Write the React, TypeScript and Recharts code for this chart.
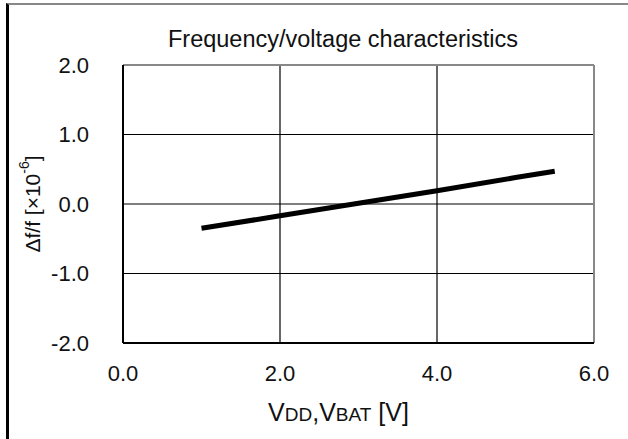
import { CartesianGrid, Label, Line, LineChart, ReferenceLine, XAxis, YAxis } from "recharts"

// supply voltage (V) vs frequency deviation (x10^-6)
const voltage = [1.0, 2.0, 3.0, 4.0, 5.0, 5.5]
const deviation = [-0.35, -0.17, 0.01, 0.19, 0.38, 0.47]
const xTicks = [0, 2, 4, 6]
const yTicks = [-2, -1, 0, 1, 2]

const data = voltage.map((v, i) => ({ v, df: deviation[i] }))

const font = "'Liberation Sans', Arial, sans-serif"

const XTitle = (props: any) => {
  const { x, y, width } = props.viewBox
  return (
    <text x={x + width / 2 - 20} y={y + 78} textAnchor="middle" fontFamily={font} fill="#111">
      <tspan fontSize={25}>V</tspan>
      <tspan fontSize={19}>DD</tspan>
      <tspan fontSize={25}>,V</tspan>
      <tspan fontSize={19}>BAT</tspan>
      <tspan fontSize={25}> [V]</tspan>
    </text>
  )
}

const YTitle = (props: any) => {
  const { y, height } = props.viewBox
  const cx = 32
  const cy = y + height / 2
  return (
    <text x={cx} y={cy} transform={`rotate(-90 ${cx} ${cy})`} textAnchor="middle" dominantBaseline="central" fontFamily={font} fontSize={21} fill="#111">
      <tspan>Δf/f  [×10</tspan>
      <tspan fontSize={14} dy={-8}>-6</tspan>
      <tspan dy={8}>]</tspan>
    </text>
  )
}

export default function App() {
  return (
    <div style={{ position: "absolute", left: 0, top: 0, width: 628, height: 439, background: "#fff", overflow: "hidden" }}>
      <div style={{ position: "absolute", left: 6, top: 3, width: 640, height: 460, borderTop: "2px solid #888", borderLeft: "3px solid #000" }} />
      <div style={{ position: "absolute", left: 0, top: 26, width: 686, textAlign: "center", fontFamily: font, fontSize: 23.5, color: "#111" }}>
        Frequency/voltage characteristics
      </div>
      <LineChart width={628} height={439} data={data} margin={{ top: 65, right: 34, left: 73, bottom: 66 }} style={{ position: "absolute", left: 0, top: 0 }}>
        <CartesianGrid stroke="#000" strokeWidth={1.2} />
        <XAxis
          dataKey="v"
          type="number"
          domain={[0, 6]}
          ticks={xTicks}
          tickFormatter={(t) => t.toFixed(1)}
          tickLine={false}
          axisLine={{ stroke: "#000", strokeWidth: 2 }}
          tick={{ fill: "#111", fontSize: 22, fontFamily: font }}
          tickMargin={16}
          height={30}
        >
          <Label content={XTitle} />
        </XAxis>
        <YAxis
          type="number"
          domain={[-2, 2]}
          ticks={yTicks}
          tickFormatter={(t) => t.toFixed(1)}
          tickLine={false}
          axisLine={{ stroke: "#000", strokeWidth: 2 }}
          tick={{ fill: "#111", fontSize: 22, fontFamily: font }}
          tickMargin={28}
          width={50}
        >
          <Label content={YTitle} />
        </YAxis>
        <ReferenceLine y={2} stroke="#888" strokeWidth={2} />
        <ReferenceLine x={6} stroke="#888" strokeWidth={2} />
        <Line dataKey="df" stroke="#000" strokeWidth={5} dot={false} activeDot={false} isAnimationActive={false} />
      </LineChart>
    </div>
  )
}
